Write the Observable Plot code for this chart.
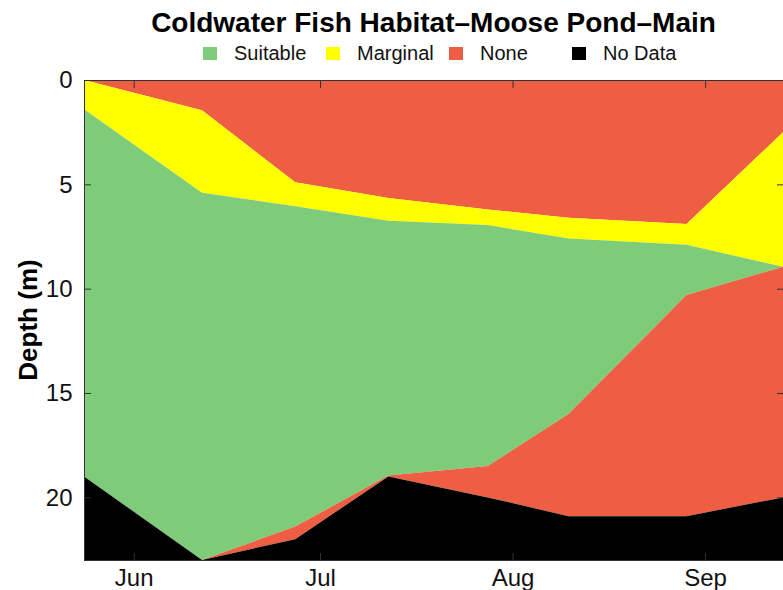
<!DOCTYPE html>
<html>
<head>
<meta charset="utf-8">
<script src="https://cdn.jsdelivr.net/npm/d3@7"></script>
<script src="https://cdn.jsdelivr.net/npm/@observablehq/plot@0.6"></script>
<style>
  body { margin: 0; background: #fff; font-family: "Liberation Sans", Arial, Helvetica, sans-serif; }
  #wrap { width: 783px; height: 590px; position: relative; overflow: hidden; background: #fff; }
  #title { position: absolute; left: 84px; width: 699px; top: 9px; text-align: center; font-weight: bold; font-size: 28px; line-height: 28px; color: #000; white-space: nowrap; }
  #legend { position: absolute; top: 43px; left: 203px; display: flex; font-size: 20px; line-height: 20px; color: #111; }
  .item { width: 123px; display: flex; align-items: center; }
  .sw { width: 14px; height: 13px; margin-right: 17px; flex: none; }
  #ylabel { position: absolute; left: 28px; top: 320px; transform: translate(-50%, -50%) rotate(-90deg); font-weight: bold; font-size: 26px; line-height: 26px; white-space: nowrap; color: #000; }
  #chart { position: absolute; top: 70px; left: 0; }
</style>
</head>
<body>
<div id="wrap">
  <div id="title"></div>
  <div id="legend"></div>
  <div id="chart"></div>
  <div id="ylabel"></div>
</div>
<script>
// ---- data ----
const titleText = "Coldwater Fish Habitat\u2013Moose Pond\u2013Main";
const categories = ["Suitable", "Marginal", "None", "No Data"];
const categoryColors = ["#7ecc7a", "#ffff00", "#ee5e42", "#000000"];
const sampleDates = ["2021-05-24T00:00Z", "2021-06-12T00:00Z", "2021-06-27T00:00Z", "2021-07-12T00:00Z",
                     "2021-07-28T00:00Z", "2021-08-10T00:00Z", "2021-08-29T00:00Z", "2021-09-13T13:00Z"];
// depth (m) of layer boundaries at each sample date
const noneUpperBottom = [0, 1.45, 4.9, 5.65, 6.2, 6.6, 6.9, 2.5];        // bottom of upper "None" / top of Marginal
const marginalBottom  = [1.4, 5.4, 6.05, 6.75, 6.95, 7.6, 7.9, 8.95];    // bottom of Marginal / top of Suitable
const suitableBottom  = [19.0, 23, 21.4, 18.95, 18.5, 16.0, 10.3, 8.95]; // bottom of Suitable / top of lower "None"
const noDataTop       = [19.0, 23, 22.0, 19.0, 20.0, 20.9, 20.9, 20.0];  // top of "No Data"
const maxDepth = 23;
const depthTicks = [0, 5, 10, 15, 20];
const monthTicks = ["2021-06-01T00:00Z", "2021-07-01T00:00Z", "2021-08-01T00:00Z", "2021-09-01T00:00Z"];
const yLabel = "Depth (m)";

// ---- header / labels ----
document.getElementById("title").textContent = titleText;
document.getElementById("ylabel").textContent = yLabel;
const legend = d3.select("#legend");
categories.forEach((c, i) => {
  const it = legend.append("div").attr("class", "item");
  it.append("div").attr("class", "sw").style("background", categoryColors[i]);
  it.append("span").text(c);
});

// ---- chart ----
const rows = sampleDates.map((d, i) => ({
  date: new Date(d),
  r1: noneUpperBottom[i],
  m: marginalBottom[i],
  s: suitableBottom[i],
  b: noDataTop[i]
}));
const mticks = monthTicks.map(d => new Date(d));
const [cSuit, cMarg, cNone, cNoData] = categoryColors;
const font = "Liberation Sans, Arial, Helvetica, sans-serif";
const tk = 7;

const chart = Plot.plot({
  width: 783,
  height: 520,
  marginTop: 10,
  marginBottom: 30,
  marginLeft: 84,
  marginRight: 0,
  style: { fontFamily: font, fontSize: "24px", background: "white", overflow: "visible", color: "#111" },
  x: { type: "utc", domain: d3.extent(rows, d => d.date) },
  y: { domain: [0, maxDepth], reverse: true },
  marks: [
    Plot.areaY(rows, { x: "date", y1: 0, y2: "r1", fill: cNone }),
    Plot.areaY(rows, { x: "date", y1: "r1", y2: "m", fill: cMarg }),
    Plot.areaY(rows, { x: "date", y1: "m", y2: "s", fill: cSuit }),
    Plot.areaY(rows, { x: "date", y1: "s", y2: "b", fill: cNone }),
    Plot.areaY(rows, { x: "date", y1: "b", y2: maxDepth, fill: cNoData }),
    Plot.frame({ stroke: "#333", strokeWidth: 1 }),
    Plot.axisX({ ticks: mticks, tickFormat: d3.utcFormat("%b"), tickSize: 0, tickPadding: 8, label: null, fontSize: 24 }),
    Plot.axisY({ ticks: depthTicks, tickSize: 0, tickPadding: 12, label: null, fontSize: 24 }),
    // inward tick marks on all four sides
    Plot.axisX({ anchor: "top", ticks: mticks, tickSize: tk, dy: tk, tickFormat: () => "", label: null, stroke: "#333" }),
    Plot.axisX({ anchor: "bottom", ticks: mticks, tickSize: tk, dy: -tk, tickFormat: () => "", label: null, stroke: "#333" }),
    Plot.axisY({ anchor: "left", ticks: depthTicks, tickSize: tk, dx: tk, tickFormat: () => "", label: null, stroke: "#333" }),
    Plot.axisY({ anchor: "right", ticks: depthTicks, tickSize: tk, dx: -tk, tickFormat: () => "", label: null, stroke: "#333" })
  ]
});
document.getElementById("chart").appendChild(chart);
</script>
</body>
</html>
